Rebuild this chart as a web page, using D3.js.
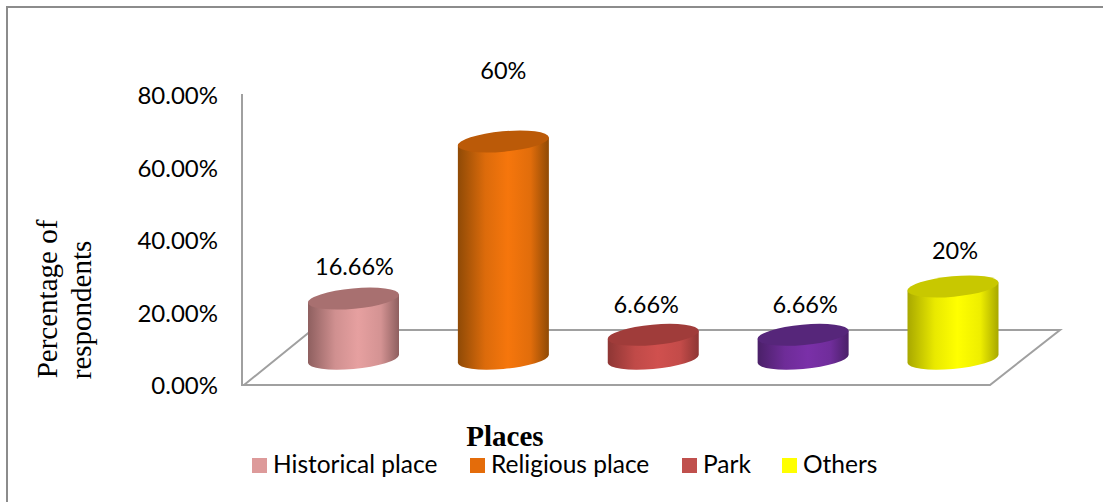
<!DOCTYPE html>
<html><head><meta charset="utf-8">
<script src="https://cdn.jsdelivr.net/npm/d3@7/dist/d3.min.js"></script>
<style>html,body{margin:0;padding:0;background:#fff}svg{display:block}</style>
</head><body><svg id="c" width="1103" height="502"></svg>
<script>
const categories=["Historical place","Religious place","Park","","Others"];
const values=[16.66,60,6.66,6.66,20];
const valueLabels=["16.66%","60%","6.66%","6.66%","20%"];
const barColors=["#e6a0a0","#f6760c","#d0504e","#7a30a8","#ffff00"];
const topColors=["#a87070","#bb5a08","#a03c3a","#56267a","#c8c800"];
const edgeColors=["#8e5f5f","#8f4a06","#8e3634","#4a2068","#a8a800"];
const legendColors=["#dd9a9a","#e46c0a","#c0504d","#ffff00"];
const legendNames=["Historical place","Religious place","Park","Others"];
const legendX=[252,470,682,782];
const labelLift=[24,63,22,22,28];
const labelShift=[1,0,-7,2,2];
const ticks=[0,20,40,60,80];

const svg=d3.select("#c");
const grey="#a0a0a0";
const sans="Lato, 'Open Sans', sans-serif";
const y=d3.scaleLinear().domain([0,80]).range([384,94]);
const x=d3.scalePoint().domain(d3.range(5)).range([353.5,953]);
const depth=25, rx=45.7, ry=10.2, tilt=-5.3, dx=45.5, dy=4;

svg.append("path").attr("d","M1103,7H7V502").attr("fill","none").attr("stroke","#8c8c8c").attr("stroke-width",2);

const defs=svg.append("defs");
barColors.forEach((c,i)=>{
  const g=defs.append("linearGradient").attr("id","g"+i);
  [[0,edgeColors[i]],[0.3,d3.interpolateRgb(edgeColors[i],c)(0.75)],[0.55,c],[0.8,d3.interpolateRgb(edgeColors[i],c)(0.8)],[1,edgeColors[i]]]
    .forEach(s=>g.append("stop").attr("offset",s[0]).attr("stop-color",s[1]));
});

// floor and value axis
svg.append("path").attr("d",`M${242},${y(80)}V${y(0)+1}H990L1060,330H312L244,385`)
  .attr("fill","none").attr("stroke",grey).attr("stroke-width",2);

// ticks
svg.selectAll("text.t").data(ticks).join("text").attr("class","t")
  .attr("x",218).attr("y",d=>y(d)+10).attr("text-anchor","end")
  .attr("font-family",sans).attr("font-size",24).attr("fill","#000")
  .text(d=>d3.format(".2f")(d)+"%");

// bars
const bars=svg.selectAll("g.b").data(values).join("g").attr("class","b")
  .attr("transform",(d,i)=>`translate(${x(i)},0)`);
bars.append("path").attr("fill",(d,i)=>`url(#g${i})`).attr("d",d=>{
  const t=y(d)-depth, b=y(0)-depth;
  return `M${-dx},${t+dy}L${-dx},${b+dy}A${rx},${ry} ${tilt} 0 0 ${dx},${b-dy}L${dx},${t-dy}Z`;
});
bars.append("ellipse").attr("rx",rx).attr("ry",ry)
  .attr("transform",d=>`translate(0,${y(d)-depth}) rotate(${tilt})`)
  .attr("fill",(d,i)=>topColors[i]);
bars.append("text").attr("x",(d,i)=>labelShift[i]).attr("y",(d,i)=>y(d)-depth-labelLift[i]).attr("text-anchor","middle")
  .attr("font-family",sans).attr("font-size",23.5).attr("fill","#000")
  .text((d,i)=>valueLabels[i]);

// titles
const serif="'Liberation Serif', serif";
svg.append("text").attr("transform","translate(57,299) rotate(-90)").attr("text-anchor","middle")
  .attr("font-family",serif).attr("font-size",29).text("Percentage of");
svg.append("text").attr("transform","translate(91,310) rotate(-90)").attr("text-anchor","middle")
  .attr("font-family",serif).attr("font-size",29).text("respondents");
svg.append("text").attr("x",505).attr("y",446).attr("text-anchor","middle")
  .attr("font-family",serif).attr("font-weight","bold").attr("font-size",29).text("Places");

// legend
const lg=svg.selectAll("g.l").data(legendNames).join("g").attr("class","l")
  .attr("transform",(d,i)=>`translate(${legendX[i]},458)`);
lg.append("rect").attr("width",15).attr("height",15).attr("fill",(d,i)=>legendColors[i]);
lg.append("text").attr("x",21).attr("y",15).attr("font-family",sans)
  .attr("font-size",24.5).attr("fill","#000").text(d=>d);
</script></body></html>
